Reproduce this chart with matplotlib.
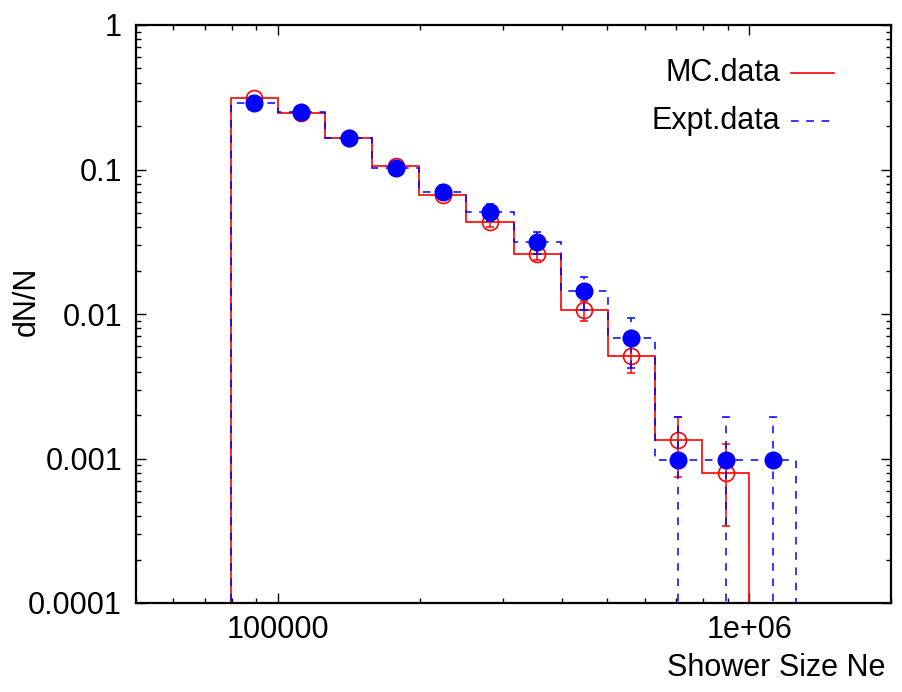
import numpy as np
import matplotlib
matplotlib.use('Agg')
import matplotlib.pyplot as plt

plt.rcParams['font.family'] = ['Liberation Sans', 'DejaVu Sans']

# log10 of the shower-size bin edges and centres
mc_log_edges = [4.9, 5.0, 5.1, 5.2, 5.3, 5.4, 5.5, 5.6, 5.7, 5.8, 5.9, 6.0]
expt_log_edges = [4.9, 5.0, 5.1, 5.2, 5.3, 5.4, 5.5, 5.6, 5.7, 5.8, 5.9, 6.0, 6.1]
mc_log_centres = [4.95, 5.05, 5.15, 5.25, 5.35, 5.45, 5.55, 5.65, 5.75, 5.85, 5.95]
expt_log_centres = [4.95, 5.05, 5.15, 5.25, 5.35, 5.45, 5.55, 5.65, 5.75, 5.85, 5.95, 6.05]

mc_vals = [0.314, 0.245, 0.166, 0.106, 0.0670, 0.0436, 0.0262, 0.0106, 0.0051,
           0.00134, 0.00080]
mc_err = [0.0092, 0.0081, 0.0067, 0.0053, 0.0042, 0.0034, 0.0026, 0.0017, 0.0012,
          0.00060, 0.00046]

expt_vals = [0.290, 0.250, 0.164, 0.102, 0.0703, 0.0510, 0.0316, 0.0144, 0.0068,
             0.00097, 0.00097, 0.00097]
expt_err = [0.0168, 0.0156, 0.0126, 0.0099, 0.0083, 0.0070, 0.0055, 0.0037, 0.0026,
            0.00097, 0.00097, 0.00097]

y_ticks = [1e-4, 1e-3, 1e-2, 1e-1, 1]
y_ticklabels = ['0.0001', '0.001', '0.01', '0.1', '1']
x_ticks = [1e5, 1e6]
x_ticklabels = ['100000', '1e+06']

FS = 22
RED = '#ff0000'
BLUE = '#0000ff'
DASH = (0, (5, 5))

fig = plt.figure(figsize=(9.03, 6.92), dpi=100)
ax = fig.add_axes([136 / 903, 1 - 603 / 692, (891 - 136) / 903, (603 - 25) / 692])
ax.set_xscale('log')
ax.set_yscale('log')

mc_edges = 10 ** np.array(mc_log_edges)
expt_edges = 10 ** np.array(expt_log_edges)
mc_x = 10 ** np.array(mc_log_centres)
expt_x = 10 ** np.array(expt_log_centres)

# MC: solid red histogram, open circles
ax.stairs(mc_vals, mc_edges, baseline=1e-6, color=RED, linewidth=1.2, zorder=2)
ax.errorbar(mc_x, mc_vals, yerr=mc_err, fmt='none', ecolor=RED, elinewidth=1.1,
            capsize=3, capthick=1.1, zorder=3)
ax.plot(mc_x, mc_vals, 'o', mfc='none', mec=RED, ms=11.5, mew=1.2, zorder=4)

# Experiment: dashed blue histogram, filled dots
ax.stairs(expt_vals, expt_edges, baseline=1e-6, color=BLUE, linewidth=1.1,
          linestyle=DASH, zorder=5)
eb = ax.errorbar(expt_x, expt_vals, yerr=expt_err, fmt='none', ecolor=BLUE,
                 elinewidth=1.1, capsize=3, capthick=1.1, zorder=6)
eb[2][0].set_linestyle(DASH)
ax.plot(expt_x, expt_vals, 'o', color=BLUE, ms=12, zorder=7)

ax.set_xlim(5e4, 2e6)
ax.set_ylim(1e-4, 1)
ax.set_xticks(x_ticks)
ax.set_xticklabels(x_ticklabels)
ax.set_yticks(y_ticks)
ax.set_yticklabels(y_ticklabels)
ax.tick_params(which='both', direction='in', top=True, right=True, width=1)
ax.tick_params(which='major', length=7, labelsize=FS)
ax.tick_params(axis='x', which='major', pad=9)
ax.tick_params(axis='y', which='major', pad=10)
ax.tick_params(which='minor', length=3.5)
for sp in ax.spines.values():
    sp.set_linewidth(1.6)

# gnuplot-style key: right-aligned text, sample on the right
ax.text(0.853, 0.917, 'MC.data', transform=ax.transAxes, ha='right', va='center',
        fontsize=FS)
ax.text(0.853, 0.834, 'Expt.data', transform=ax.transAxes, ha='right', va='center',
        fontsize=FS)
ax.plot([0.8675, 0.9245], [0.917, 0.917], color=RED, linewidth=1.2,
        transform=ax.transAxes)
ax.plot([0.8675, 0.9220], [0.834, 0.834], color=BLUE, linewidth=1.1,
        linestyle=DASH, transform=ax.transAxes)

fig.text(885 / 903, 1 - 668 / 692, 'Shower Size Ne', ha='right', va='center',
         fontsize=FS)
fig.text(27 / 903, 1 - 301 / 692, 'dN/N', rotation=90, ha='center', va='center',
         fontsize=FS)

fig.savefig('out.png', dpi=100)
